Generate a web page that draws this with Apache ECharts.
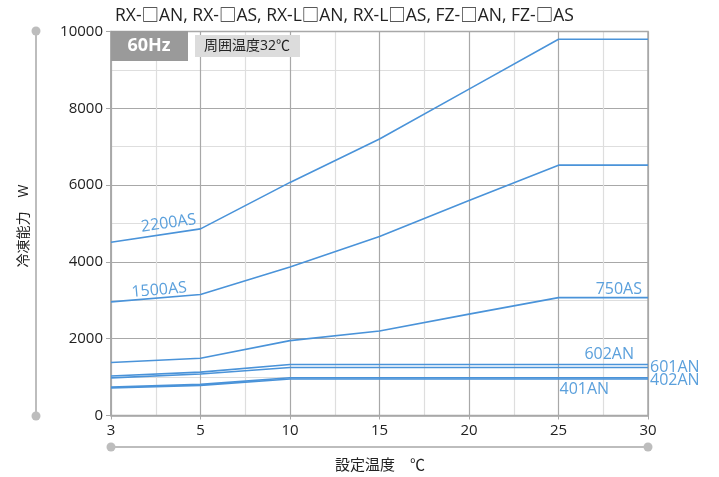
<!DOCTYPE html>
<html><head><meta charset="utf-8">
<script src="https://cdn.jsdelivr.net/npm/echarts@6/dist/echarts.min.js"></script>
<style>html,body{margin:0;padding:0;background:#fff}#c{width:719px;height:477px}</style>
</head><body><div id="c"></div>
<script>
const categories = ['3', '5', '10', '15', '20', '25', '30'];
const seriesNames = ['2200AS', '1500AS', '750AS', '602AN', '601AN', '402AN', '401AN'];
const v2200AS = [4510, 4860, 6070, 7200, 8500, 9800, 9800];
const v1500AS = [2960, 3150, 3870, 4660, 5600, 6520, 6520];
const v750AS  = [1380, 1490, 1950, 2200, 2640, 3070, 3070];
const v602AN  = [1030, 1130, 1330, 1330, 1330, 1330, 1330];
const v601AN  = [980, 1080, 1250, 1250, 1250, 1250, 1250];
const v402AN  = [740, 810, 985, 985, 985, 985, 985];
const v401AN  = [715, 785, 950, 950, 950, 950, 950];
const values = [v2200AS, v1500AS, v750AS, v602AN, v601AN, v402AN, v401AN];

const FONT = '"Open Sans", "Noto Sans CJK JP", sans-serif';
const LINE = '#4a93d9';
const LBL = '#5ba0dc';

// label placement (style only): [index, align, verticalAlign, offset, rotate]
const labelPlace = {
  '2200AS': [1, 'right', 'bottom', [-3, -2], 8],
  '1500AS': [1, 'right', 'bottom', [-13, 0], 5],
  '750AS':  [6, 'right', 'bottom', [-6, 0], 0],
  '602AN':  [6, 'right', 'bottom', [-14, -2], 0],
  '601AN':  [6, 'left', 'middle', [2, 0], 0],
  '402AN':  [6, 'left', 'middle', [2, 3], 0],
  '401AN':  [5, 'left', 'top', [1, 2], 0]
};

const series = seriesNames.map((name, si) => {
  const p = labelPlace[name];
  return {
    name, type: 'line', xAxisIndex: 0, yAxisIndex: 0,
    symbol: 'circle', symbolSize: 0, showSymbol: true,
    lineStyle: {color: LINE, width: 1.6}, itemStyle: {color: LINE},
    silent: true, z: 5,
    data: values[si].map((v, i) => i === p[0] ? {
      value: v,
      label: {show: true, formatter: name, position: 'inside', align: p[1], verticalAlign: p[2],
              offset: p[3], rotate: p[4], color: LBL, fontSize: 16, fontFamily: FONT}
    } : v)
  };
});

const chart = echarts.init(document.getElementById('c'));
chart.setOption({
  animation: false,
  textStyle: {fontFamily: FONT},
  grid: {left: 111, right: 71, top: 31.5, bottom: 61.5, show: true, borderColor: '#a8a8a8', borderWidth: 1.5, z: 3},
  title: {text: 'RX-□AN, RX-□AS, RX-L□AN, RX-L□AS, FZ-□AN, FZ-□AS', left: 110, top: 2,
          textStyle: {fontSize: 17.5, fontWeight: 'normal', color: '#222', fontFamily: FONT}},
  xAxis: [{
    type: 'category', data: categories, boundaryGap: false,
    axisLine: {lineStyle: {color: '#a8a8a8', width: 1.5}},
    axisTick: {show: true, length: 4, lineStyle: {color: '#a8a8a8'}},
    axisLabel: {color: '#222', fontSize: 15, margin: 8, fontFamily: FONT},
    splitLine: {show: true, lineStyle: {color: '#a8a8a8', width: 1.2}}, z: 2
  }, {
    type: 'value', min: 0, max: 12, interval: 1, position: 'bottom',
    axisLine: {show: false}, axisTick: {show: false}, axisLabel: {show: false},
    splitLine: {show: true, lineStyle: {color: ['transparent', '#dedede'], width: 1.2}}, z: 1
  }],
  yAxis: {
    type: 'value', min: 0, max: 10000, interval: 2000,
    axisLine: {show: true, lineStyle: {color: '#a8a8a8', width: 1.5}},
    axisTick: {show: true, length: 5, lineStyle: {color: '#a8a8a8'}},
    axisLabel: {color: '#222', fontSize: 15, margin: 8, fontFamily: FONT, formatter: v => String(v)},
    splitLine: {show: true, lineStyle: {color: '#a8a8a8', width: 1.2}},
    minorTick: {show: false, splitNumber: 2},
    minorSplitLine: {show: true, lineStyle: {color: '#dedede', width: 1.2}}
  },
  graphic: [
    {type: 'rect', left: 111, top: 31, shape: {width: 77, height: 30}, style: {fill: '#9a9a9a'}, z: 10},
    {type: 'text', x: 149, y: 46, style: {text: '60Hz', fill: '#fff', font: 'bold 18px ' + FONT, align: 'center', verticalAlign: 'middle'}, z: 11},
    {type: 'rect', left: 195, top: 35, shape: {width: 105, height: 22}, style: {fill: '#dcdcdc'}, z: 10},
    {type: 'text', x: 247, y: 46, style: {text: '周囲温度32℃', fill: '#222', font: '14px ' + FONT, align: 'center', verticalAlign: 'middle'}, z: 11},
    {type: 'line', shape: {x1: 36, y1: 31, x2: 36, y2: 416}, style: {stroke: '#bdbdbd', lineWidth: 2}},
    {type: 'circle', shape: {cx: 36, cy: 31, r: 4.5}, style: {fill: '#bdbdbd'}},
    {type: 'circle', shape: {cx: 36, cy: 416, r: 4.5}, style: {fill: '#bdbdbd'}},
    {type: 'text', x: 24, y: 226, rotation: Math.PI / 2,
     style: {text: '冷凍能力　W', fill: '#222', font: '14px ' + FONT, align: 'center', verticalAlign: 'middle'}},
    {type: 'line', shape: {x1: 111, y1: 447, x2: 648, y2: 447}, style: {stroke: '#bdbdbd', lineWidth: 2}},
    {type: 'circle', shape: {cx: 111, cy: 447, r: 4.5}, style: {fill: '#bdbdbd'}},
    {type: 'circle', shape: {cx: 648, cy: 447, r: 4.5}, style: {fill: '#bdbdbd'}},
    {type: 'text', x: 380, y: 466,
     style: {text: '設定温度　℃', fill: '#222', font: '15px ' + FONT, align: 'center', verticalAlign: 'middle'}}
  ],
  series
});
</script></body></html>
